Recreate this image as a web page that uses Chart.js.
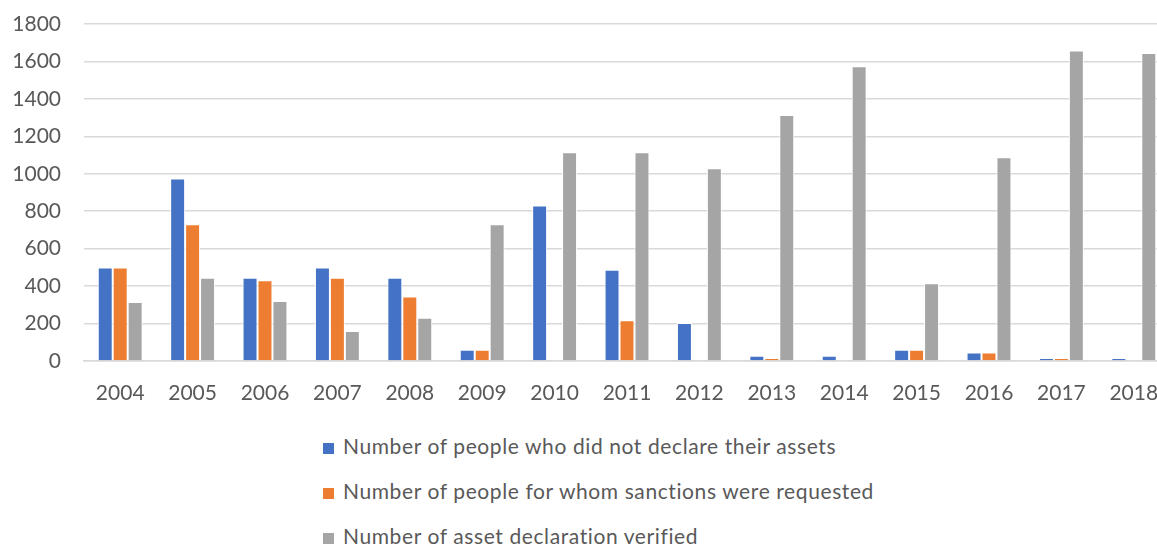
<!DOCTYPE html>
<html>
<head>
<meta charset="utf-8">
<script src="https://cdn.jsdelivr.net/npm/chart.js@4/dist/chart.umd.min.js"></script>
<style>
  html, body { margin: 0; padding: 0; background: #fff; overflow: hidden; width: 1157px; height: 545px; }
  #wrap { position: absolute; left: 0; top: 0; width: 1172px; height: 415px; }
  #legend { position: absolute; left: 323px; top: 433px; font-family: Lato, sans-serif; font-size: 21px; letter-spacing: 0.6px; color: #595959; }
  .item { height: 45px; display: flex; align-items: flex-start; }
  .box { width: 11px; height: 11px; margin-right: 9px; margin-top: 10px; }
</style>
</head>
<body>
<div id="wrap"><canvas id="c"></canvas></div>
<div id="legend"></div>
<script>
const categories = ["2004","2005","2006","2007","2008","2009","2010","2011","2012","2013","2014","2015","2016","2017","2018"];
const notDeclared = [500, 975, 445, 500, 445, 60, 830, 488, 203, 28, 28, 60, 46, 16, 16];
const sanctionsRequested = [500, 730, 431, 445, 345, 60, 0, 217, 0, 16, 0, 60, 46, 16, 0];
const verified = [315, 445, 320, 160, 231, 730, 1115, 1115, 1029, 1314, 1574, 415, 1088, 1659, 1645];
const seriesLabels = ["Number of people who did not declare their assets", "Number of people for whom sanctions were requested", "Number of asset declaration verified"];
const seriesColors = ["#4472C4", "#ED7D31", "#A5A5A5"];
const yTicks = [0, 200, 400, 600, 800, 1000, 1200, 1400, 1600, 1800];

const font = { family: "Lato, sans-serif", size: 21 };
const ds = [notDeclared, sanctionsRequested, verified].map((d, i) => ({
  label: seriesLabels[i], data: d, backgroundColor: seriesColors[i],
  borderColor: "#ffffff", borderWidth: 1,
  categoryPercentage: 0.62, barPercentage: 1.0
}));

new Chart(document.getElementById("c"), {
  type: "bar",
  data: { labels: categories, datasets: ds },
  options: {
    responsive: true, maintainAspectRatio: false, animation: false,
    layout: { padding: { top: 24, right: 2, left: 0, bottom: 0 } },
    plugins: { legend: { display: false }, tooltip: { enabled: false } },
    scales: {
      x: {
        grid: { display: false, drawTicks: false },
        border: { display: true, color: "#d9d9d9", width: 1.5 },
        ticks: { color: "#595959", font, padding: 20, maxRotation: 0 },
        afterFit(s) { s.height = 415 - 361; s.paddingLeft = 0; s.paddingRight = 0; }
      },
      y: {
        min: 0, max: 1800,
        afterBuildTicks(s) { s.ticks = yTicks.map(v => ({ value: v })); },
        grid: { color: "#d9d9d9", lineWidth: 1.5, drawTicks: false },
        border: { display: false },
        ticks: { color: "#595959", font, padding: 23, callback: v => String(v) },
        afterFit(s) { s.width = 84; s.paddingTop = 0; s.paddingBottom = 0; }
      }
    }
  }
});

const leg = document.getElementById("legend");
seriesLabels.forEach((t, i) => {
  const it = document.createElement("div"); it.className = "item";
  const b = document.createElement("div"); b.className = "box"; b.style.background = seriesColors[i];
  const s = document.createElement("span"); s.textContent = t;
  it.appendChild(b); it.appendChild(s); leg.appendChild(it);
});
</script>
</body>
</html>
